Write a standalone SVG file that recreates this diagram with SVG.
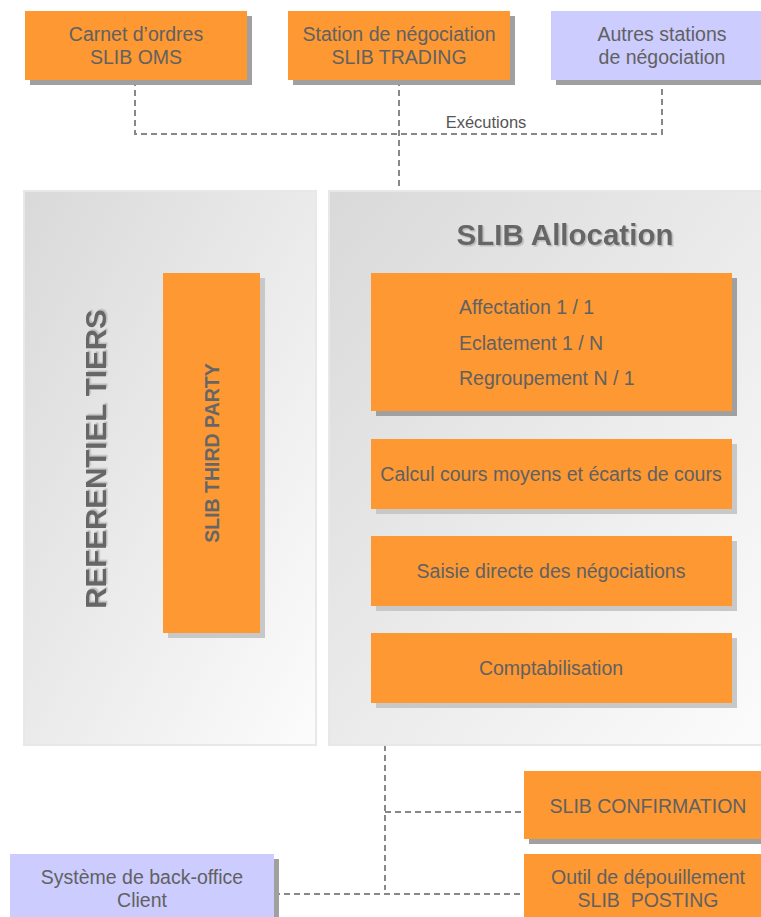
<svg xmlns="http://www.w3.org/2000/svg" width="761" height="917" viewBox="0 0 761 917">
<defs>
<linearGradient id="pg" x1="0" y1="0" x2="1" y2="1">
<stop offset="0" stop-color="#d9d9d9"/>
<stop offset="1" stop-color="#fcfcfc"/>
</linearGradient>
<filter id="ts" x="-10%" y="-10%" width="120%" height="120%">
<feDropShadow dx="1.5" dy="1.5" stdDeviation="0.6" flood-color="#bbbbbb" flood-opacity="1"/>
</filter>
</defs>
<style>
.o{fill:#fd9833}
.b{fill:#ccccff}
.sh{fill:#a0a0a0}
.sl{fill:#c8c8c8}
.panel{fill:url(#pg);stroke:#e8e8e8;stroke-width:2}
text{font-family:"Liberation Sans",Arial,sans-serif;fill:#616161}
.t{font-size:19.5px;text-anchor:middle}
.l{font-size:19.5px}
.c{fill:none;stroke:#888888;stroke-width:2;stroke-dasharray:6,4}
</style>
<g id="connectors">
<path class="c" d="M135,80 V134 H662 V80"/>
<path class="c" d="M399,80 V190"/>
<path class="c" d="M385,745 V890"/>
<path class="c" d="M385,812 H524"/>
<path class="c" d="M274,894 H524"/>
<text x="486" y="128" style="font-size:16.5px;text-anchor:middle;fill:#555">Exécutions</text>
</g>
<g id="oms">
<rect class="sh" x="30" y="16" width="222" height="69"/>
<rect class="o" x="25" y="11" width="222" height="69"/>
<text class="t" x="136" y="41">Carnet d’ordres</text>
<text class="t" x="136" y="64">SLIB OMS</text>
</g>
<g id="trading">
<rect class="sh" x="293" y="16" width="222" height="69"/>
<rect class="o" x="288" y="11" width="222" height="69"/>
<text class="t" x="399" y="41">Station de négociation</text>
<text class="t" x="399" y="64">SLIB TRADING</text>
</g>
<g id="autres">
<rect class="sh" x="556" y="16" width="210" height="69"/>
<rect class="b" x="551" y="11" width="215" height="69"/>
<text class="t" x="662" y="41">Autres stations</text>
<text class="t" x="662" y="64">de négociation</text>
</g>
<g id="referentiel">
<rect class="panel" x="24" y="191" width="292" height="554"/>
<text x="95" y="459" transform="rotate(-90 95 459)" filter="url(#ts)" style="font-size:29.5px;font-weight:bold;text-anchor:middle;dominant-baseline:central;fill:#666">REFERENTIEL TIERS</text>
</g>
<g id="thirdparty">
<rect class="sl" x="168" y="278" width="97" height="360"/>
<rect class="o" x="163" y="273" width="97" height="360"/>
<text x="212" y="453" transform="rotate(-90 212 453)" style="font-size:19.5px;font-weight:bold;text-anchor:middle;dominant-baseline:central;fill:#666">SLIB THIRD PARTY</text>
</g>
<g id="allocation">
<rect class="panel" x="329" y="191" width="440" height="554"/>
<text x="565" y="245" filter="url(#ts)" style="font-size:29.5px;font-weight:bold;text-anchor:middle;fill:#666">SLIB Allocation</text>
</g>
<g id="affectation">
<rect class="sh" x="376" y="278" width="361" height="138"/>
<rect class="o" x="371" y="273" width="361" height="138"/>
<text class="l" x="459" y="314">Affectation 1 / 1</text>
<text class="l" x="459" y="350">Eclatement 1 / N</text>
<text class="l" x="459" y="385">Regroupement N / 1</text>
</g>
<g id="calcul">
<rect class="sl" x="376" y="444" width="361" height="70"/>
<rect class="o" x="371" y="439" width="361" height="70"/>
<text class="t" x="551" y="481">Calcul cours moyens et écarts de cours</text>
</g>
<g id="saisie">
<rect class="sl" x="376" y="541" width="361" height="70"/>
<rect class="o" x="371" y="536" width="361" height="70"/>
<text class="t" x="551" y="578">Saisie directe des négociations</text>
</g>
<g id="compta">
<rect class="sl" x="376" y="638" width="361" height="70"/>
<rect class="o" x="371" y="633" width="361" height="70"/>
<text class="t" x="551" y="675">Comptabilisation</text>
</g>
<g id="confirmation">
<rect class="sh" x="529" y="776" width="237" height="68"/>
<rect class="o" x="524" y="771" width="237" height="68"/>
<text class="t" x="648" y="813">SLIB CONFIRMATION</text>
</g>
<g id="posting">
<rect class="o" x="524" y="854" width="237" height="63"/>
<text class="t" x="648" y="884">Outil de dépouillement</text>
<text class="t" x="648" y="907" xml:space="preserve">SLIB  POSTING</text>
</g>
<g id="backoffice">
<rect class="sh" x="15" y="859" width="264" height="58"/>
<rect class="b" x="10" y="854" width="264" height="63"/>
<text class="t" x="142" y="884">Système de back-office</text>
<text class="t" x="142" y="907">Client</text>
</g>
</svg>
